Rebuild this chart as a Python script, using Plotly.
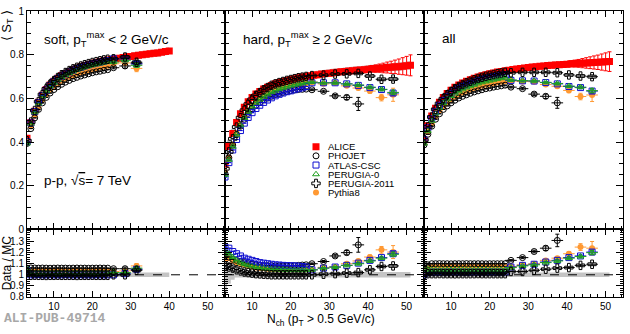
import plotly.graph_objects as go

W, H = 630, 334
FONT = "Liberation Sans, Arial, sans-serif"

# multiplicity bins
nch_soft = list(range(3, 41))
nch_alice = list(range(3, 52))
nch_mc = list(range(3, 25))
nch_mc_bins = [25.5, 28.5, 31.5, 34.5, 37.5, 40.5, 43.5, 46.5]

# ALICE data  <S_T>
alice_soft = [.418, .490, .542, .583, .615, .641, .662, .679, .693, .705, .715, .724, .732, .739,
              .745, .751, .756, .761, .765, .769, .773, .776, .779, .782, .785, .788, .791, .793,
              .796, .798, .800, .803, .805, .807, .809, .812, .815, .818]
alice_hard = [.300, .380, .440, .490, .530, .560, .585, .605, .620, .632, .643, .652, .660, .667,
              .673, .678, .683, .687, .691, .695, .698, .701, .704, .707, .709, .712, .714, .716,
              .718, .720, .722, .724, .726, .727, .729, .731, .732, .734, .736, .737, .739, .740,
              .742, .743, .745, .746, .748, .750, .752]
alice_all = [.410, .475, .520, .555, .583, .605, .623, .638, .651, .662, .671, .679, .686, .693,
             .699, .704, .709, .713, .717, .721, .724, .727, .730, .733, .735, .738, .740, .742,
             .744, .746, .748, .749, .751, .752, .754, .755, .756, .757, .759, .760, .761, .762,
             .763, .764, .765, .766, .767, .768, .769]
alice_hard_err = [0] * 31 + [.004, .005, .006, .008, .009, .011, .013, .015, .017, .019, .022,
                             .025, .028, .031, .035, .039, .043, .048]
alice_all_err = [0] * 31 + [.003, .004, .005, .007, .008, .010, .012, .014, .016, .018, .021,
                            .024, .027, .030, .033, .037, .041, .045]
# relative systematic uncertainty
sys_soft = [.02] * 38
sys_hard = [.15, .08, .045] + [.025] * 46
sys_all = [.03, .025] + [.02] * 47

# MC predictions, top panels (dense bins 3..24, then wide bins)
phojet_soft = [.394, .462, .511, .550, .580, .605, .625, .641, .654, .665, .675, .683, .691, .697,
               .703, .708, .713, .718, .722, .725, .729, .732, .741, .749, .759]
atlas_soft = [.402, .488, .540, .581, .613, .639, .660, .677, .691, .703, .713, .722, .730, .737,
              .743, .749, .754, .759, .763, .767, .771, .774, .782, .782, .759]
per0_soft = [.394, .485, .537, .577, .609, .635, .655, .672, .686, .698, .708, .717, .725, .732,
             .738, .744, .749, .753, .757, .761, .765, .768, .767, .775, .752]
per11_soft = [.406, .492, .545, .586, .618, .644, .665, .682, .696, .709, .719, .728, .736, .743,
              .749, .755, .760, .765, .769, .773, .777, .780, .782, .790, .766]
py8_soft = [.404, .473, .524, .563, .594, .619, .640, .656, .670, .681, .691, .700, .707, .714,
            .720, .726, .730, .735, .739, .743, .747, .750, .759, .763, .738]

phojet_hard = [.256, .328, .386, .434, .473, .505, .532, .553, .569, .581, .593, .602, .610, .618,
               .623, .628, .632, .636, .639, .641, .642, .643, .640, .633, .612, .605, .575]
atlas_hard = [.240, .306, .364, .412, .453, .487, .513, .535, .554, .569, .582, .593, .603, .612,
              .619, .625, .631, .635, .640, .645, .649, .655, .672, .672, .672, .667, .660, .650,
              .641, .625]
per0_hard = [.250, .319, .379, .434, .477, .511, .539, .563, .581, .595, .608, .619, .629, .636,
             .643, .649, .654, .659, .663, .667, .670, .673, .675, .672, .672, .667, .662, .652,
             .642, .628]
per11_hard = [.278, .355, .415, .469, .512, .546, .574, .596, .614, .627, .640, .650, .660, .667,
              .673, .678, .683, .687, .691, .695, .698, .701, .705, .707, .712, .713, .715, .703,
              .688, .689]
py8_hard = [.263, .330, .389, .441, .482, .514, .542, .564, .582, .595, .608, .618, .627, .635,
            .641, .646, .650, .654, .658, .662, .665, .668, .675, .667, .672, .658, .648, .634,
            .604, .617]

phojet_all = [.387, .436, .473, .505, .530, .550, .566, .580, .592, .602, .610, .617, .624, .630,
              .635, .640, .645, .648, .652, .655, .658, .661, .652, .645, .620, .610, .580]
atlas_all = [.410, .466, .507, .541, .569, .590, .608, .622, .635, .646, .655, .662, .669, .676,
             .682, .687, .692, .696, .700, .703, .706, .709, .683, .681, .680, .673, .667, .655,
             .650, .634]
per0_all = [.394, .452, .498, .531, .558, .579, .596, .611, .623, .633, .642, .650, .656, .663,
            .669, .674, .678, .682, .686, .690, .693, .696, .685, .682, .681, .674, .669, .657,
            .652, .636]
per11_all = [.410, .470, .515, .550, .577, .599, .617, .632, .645, .655, .664, .672, .679, .686,
             .692, .697, .702, .706, .710, .714, .717, .720, .718, .720, .720, .720, .718, .708,
             .703, .700]
py8_all = [.398, .448, .486, .519, .545, .565, .582, .596, .608, .619, .627, .635, .641, .648,
           .653, .658, .663, .666, .670, .674, .677, .679, .680, .678, .677, .664, .656, .637,
           .609, .616]

# Data / MC
phojet_soft_r = [1.06, 1.062, 1.061, 1.06, 1.061, 1.06, 1.059, 1.06, 1.061, 1.06, 1.06, 1.059,
                 1.06, 1.061, 1.06, 1.06, 1.059, 1.06, 1.06, 1.061, 1.06, 1.06, 1.055, 1.055, 1.05]
atlas_soft_r = [1.04, 1.0, 1.0, 1.002, 1.0, 1.0, 1.001, 1.0, 1.0, 1.0, 1.002, 1.0, 1.0, 1.0,
                1.001, 1.0, 1.0, 1.0, 1.001, 1.0, 1.0, 1.0, 1.0, 1.01, 1.05]
per0_soft_r = [1.06, 1.01, 1.01, 1.012, 1.01, 1.01, 1.011, 1.01, 1.01, 1.01, 1.01, 1.011, 1.01,
               1.01, 1.01, 1.01, 1.01, 1.011, 1.01, 1.01, 1.01, 1.01, 1.02, 1.02, 1.06]
per11_soft_r = [1.03, .995, .996, .995, .995, .994, .995, .995, .996, .995, .995, .995, .995,
                .994, .995, .995, .995, .996, .995, .995, .995, .995, 1.0, 1.0, 1.04]
py8_soft_r = [1.03, 1.035, 1.035, 1.036, 1.035, 1.035, 1.034, 1.035, 1.035, 1.036, 1.035, 1.035,
              1.035, 1.034, 1.035, 1.035, 1.035, 1.036, 1.035, 1.035, 1.035, 1.035, 1.03, 1.035,
              1.08]

phojet_hard_r = [1.17, 1.16, 1.14, 1.13, 1.12, 1.11, 1.10, 1.095, 1.09, 1.088, 1.085, 1.083,
                 1.082, 1.08, 1.08, 1.08, 1.08, 1.08, 1.082, 1.085, 1.088, 1.09, 1.10, 1.12,
                 1.17, 1.20, 1.27]
atlas_hard_r = [1.25, 1.24, 1.21, 1.19, 1.17, 1.15, 1.14, 1.13, 1.12, 1.11, 1.105, 1.10, 1.095,
                1.09, 1.088, 1.085, 1.083, 1.082, 1.08, 1.078, 1.075, 1.07, 1.045, 1.06, 1.07,
                1.085, 1.105, 1.13, 1.155, 1.19]
per0_hard_r = [1.20, 1.19, 1.16, 1.13, 1.11, 1.095, 1.085, 1.075, 1.068, 1.062, 1.058, 1.054,
               1.05, 1.048, 1.046, 1.045, 1.044, 1.043, 1.042, 1.042, 1.042, 1.042, 1.045, 1.06,
               1.07, 1.085, 1.10, 1.125, 1.15, 1.185]
per11_hard_r = [1.08, 1.07, 1.06, 1.045, 1.035, 1.025, 1.02, 1.015, 1.01, 1.008, 1.005, 1.003,
                1.0, 1.0, 1.0, 1.0, 1.0, 1.0, 1.0, 1.0, 1.0, 1.0, 1.0, 1.005, 1.01, 1.015, 1.02,
                1.045, 1.075, 1.08]
py8_hard_r = [1.14, 1.15, 1.13, 1.11, 1.10, 1.09, 1.08, 1.072, 1.066, 1.062, 1.058, 1.055, 1.052,
              1.05, 1.05, 1.05, 1.05, 1.05, 1.05, 1.05, 1.05, 1.05, 1.045, 1.067, 1.07, 1.10,
              1.125, 1.16, 1.225, 1.205]

phojet_all_r = [1.06, 1.09, 1.10, 1.10, 1.101, 1.10, 1.10, 1.099, 1.10, 1.10, 1.10, 1.101, 1.10,
                1.10, 1.10, 1.10, 1.099, 1.10, 1.10, 1.10, 1.10, 1.10, 1.13, 1.155, 1.21, 1.24,
                1.31]
atlas_all_r = [1.0, 1.02, 1.025, 1.025, 1.024, 1.025, 1.025, 1.026, 1.025, 1.025, 1.025, 1.024,
               1.025, 1.025, 1.025, 1.025, 1.026, 1.025, 1.025, 1.025, 1.025, 1.025, 1.07, 1.085,
               1.095, 1.115, 1.13, 1.155, 1.17, 1.205]
per0_all_r = [1.04, 1.05, 1.045, 1.045, 1.045, 1.044, 1.045, 1.045, 1.045, 1.046, 1.045, 1.045,
              1.045, 1.045, 1.044, 1.045, 1.045, 1.045, 1.045, 1.045, 1.045, 1.045, 1.065, 1.08,
              1.09, 1.11, 1.125, 1.15, 1.165, 1.20]
per11_all_r = [1.0, 1.01, 1.01, 1.01, 1.011, 1.01, 1.01, 1.01, 1.009, 1.01, 1.01, 1.01, 1.01,
               1.01, 1.011, 1.01, 1.01, 1.01, 1.01, 1.01, 1.01, 1.01, 1.03, 1.03, 1.04, 1.05,
               1.06, 1.065, 1.085, 1.095]
py8_all_r = [1.03, 1.06, 1.07, 1.07, 1.07, 1.071, 1.07, 1.07, 1.07, 1.069, 1.07, 1.07, 1.07,
             1.07, 1.07, 1.071, 1.07, 1.07, 1.07, 1.07, 1.07, 1.07, 1.075, 1.09, 1.10, 1.13,
             1.15, 1.19, 1.25, 1.24]

# stat. errors of the wide MC bins
phojet_soft_e = [.005, .01, .01]
atlas_soft_e = [.004, .006, .01]
per0_soft_e = [.004, .006, .01]
per11_soft_e = [.004, .006, .01]
py8_soft_e = [.005, .008, .015]
phojet_hard_e = [.004, .005, .006, .01, .03]
atlas_hard_e = [.002, .002, .003, .003, .004, .005, .006, .01]
per0_hard_e = [.002, .002, .003, .003, .004, .005, .006, .01]
per11_hard_e = [.002, .002, .003, .003, .004, .005, .006, .008]
py8_hard_e = [.003, .004, .005, .006, .008, .01, .015, .03]
phojet_all_e = [.004, .005, .006, .01, .025]
atlas_all_e = [.002, .002, .003, .003, .004, .005, .006, .01]
per0_all_e = [.002, .002, .003, .003, .004, .005, .006, .01]
per11_all_e = [.002, .002, .003, .003, .004, .005, .006, .008]
py8_all_e = [.003, .004, .005, .006, .008, .01, .015, .03]

legend_names = ["ALICE", "PHOJET", "ATLAS-CSC", "PERUGIA-0", "PERUGIA-2011", "Pythia8"]

# ---- styles ----
RED = "#ff0000"
BLUE = "#1010d0"
GREEN = "#20a020"
ORANGE = "#ff9933"
GREY = "#c4c4c4"
styles = {
    "ALICE": dict(symbol="square", size=7, color=RED, line=dict(width=0)),
    "PHOJET": dict(symbol="circle-open", size=6, color="black", line=dict(width=1)),
    "ATLAS-CSC": dict(symbol="square-open", size=6, color=BLUE, line=dict(width=1)),
    "PERUGIA-0": dict(symbol="triangle-up-open", size=6, color=GREEN, line=dict(width=1)),
    "PERUGIA-2011": dict(symbol="cross-open", size=7, color="black", line=dict(width=1)),
    "Pythia8": dict(symbol="circle", size=6, color=ORANGE, line=dict(width=0)),
}

fig = go.Figure()

panels = [
    dict(nch=nch_soft, alice=alice_soft, err=[0] * 38, sys=sys_soft,
         mc={"PHOJET": (phojet_soft, phojet_soft_r, phojet_soft_e),
             "ATLAS-CSC": (atlas_soft, atlas_soft_r, atlas_soft_e),
             "PERUGIA-0": (per0_soft, per0_soft_r, per0_soft_e),
             "PERUGIA-2011": (per11_soft, per11_soft_r, per11_soft_e),
             "Pythia8": (py8_soft, py8_soft_r, py8_soft_e)}),
    dict(nch=nch_alice, alice=alice_hard, err=alice_hard_err, sys=sys_hard,
         mc={"PHOJET": (phojet_hard, phojet_hard_r, phojet_hard_e),
             "ATLAS-CSC": (atlas_hard, atlas_hard_r, atlas_hard_e),
             "PERUGIA-0": (per0_hard, per0_hard_r, per0_hard_e),
             "PERUGIA-2011": (per11_hard, per11_hard_r, per11_hard_e),
             "Pythia8": (py8_hard, py8_hard_r, py8_hard_e)}),
    dict(nch=nch_alice, alice=alice_all, err=alice_all_err, sys=sys_all,
         mc={"PHOJET": (phojet_all, phojet_all_r, phojet_all_e),
             "ATLAS-CSC": (atlas_all, atlas_all_r, atlas_all_e),
             "PERUGIA-0": (per0_all, per0_all_r, per0_all_e),
             "PERUGIA-2011": (per11_all, per11_all_r, per11_all_e),
             "Pythia8": (py8_all, py8_all_r, py8_all_e)}),
]
mc_order = ["Pythia8", "PHOJET", "ATLAS-CSC", "PERUGIA-0", "PERUGIA-2011"]


def ax(i):
    return "" if i == 1 else str(i)


for k, p in enumerate(panels):
    top, bot = k + 1, k + 4
    xt, yt = "x" + ax(top), "y" + ax(top)
    xb, yb = "x" + ax(bot), "y" + ax(bot)
    n = p["nch"]
    # systematic band (top and ratio)
    lo = [a * (1 - s) for a, s in zip(p["alice"], p["sys"])]
    hi = [a * (1 + s) for a, s in zip(p["alice"], p["sys"])]
    for xa, ya, l, h in [(xt, yt, lo, hi), (xb, yb, [1 - s for s in p["sys"]], [1 + s for s in p["sys"]])]:
        fig.add_trace(go.Scatter(x=n, y=l, mode="lines", line=dict(width=0, shape="hvh"),
                                 xaxis=xa, yaxis=ya, hoverinfo="skip"))
        fig.add_trace(go.Scatter(x=n, y=h, mode="lines", line=dict(width=0, shape="hvh"),
                                 fill="tonexty", fillcolor=GREY, xaxis=xa, yaxis=ya,
                                 hoverinfo="skip"))
    fig.add_trace(go.Scatter(x=n, y=p["alice"], mode="markers", marker=styles["ALICE"],
                             error_y=dict(type="data", array=p["err"], color=RED, thickness=1, width=2),
                             xaxis=xt, yaxis=yt, name="ALICE"))
    for name in mc_order:
        vals, rats, berr = p["mc"][name]
        nb = len(berr)
        x = nch_mc + nch_mc_bins[:nb]
        ex = [0] * len(nch_mc) + [1.5] * nb
        ey = [0] * len(nch_mc) + berr
        ey_r = [r * e / v for r, e, v in zip(rats, ey, vals)]
        col = styles[name]["color"]
        for xa, ya, yy, ee in [(xt, yt, vals, ey), (xb, yb, rats, ey_r)]:
            fig.add_trace(go.Scatter(
                x=x, y=yy, mode="markers", marker=styles[name], name=name,
                error_x=dict(type="data", array=ex, color=col, thickness=1, width=0),
                error_y=dict(type="data", array=ee, color=col, thickness=1, width=2),
                xaxis=xa, yaxis=ya))

# ---- legend (drawn by hand, ROOT style) ----
leg_rows = [6.5, 16, 25.5, 35, 44.5, 54]
for name, yr in zip(legend_names, leg_rows):
    fig.add_trace(go.Scatter(x=[11], y=[yr], mode="markers", marker=styles[name],
                             xaxis="x7", yaxis="y7", hoverinfo="skip"))
    fig.add_annotation(x=21, y=yr, xref="x7", yref="y7", text=name, showarrow=False,
                       xanchor="left", yanchor="middle", font=dict(family=FONT, size=9.5, color="black"))

# ---- axes ----
x_px = [(27, 225), (225, 424), (424, 623)]
top_py = (6, 232)
bot_py = (232, 302)
xr = [3, 54.5]


def dom_y(a, b):
    return [1 - b / H, 1 - a / H]


base = dict(showline=True, linecolor="black", linewidth=1, mirror="ticks", ticks="inside",
            tickcolor="black", tickwidth=1, showgrid=False, zeroline=False,
            tickfont=dict(family=FONT, size=10, color="black"))
lay = {}
for k, (x0, x1) in enumerate(x_px):
    top, bot = k + 1, k + 4
    xminor = dict(ticks="inside", ticklen=3, dtick=2, tick0=0, tickcolor="black", showgrid=False)
    lay["xaxis" + ax(top)] = dict(base, domain=[x0 / W, x1 / W], range=xr, anchor="y" + ax(top),
                                  dtick=10, tick0=0, ticklen=6, minor=xminor, showticklabels=False)
    lay["xaxis" + ax(bot)] = dict(base, domain=[x0 / W, x1 / W], range=xr, anchor="y" + ax(bot),
                                  tickvals=[10, 20, 30, 40, 50], ticklen=6, minor=xminor)
    lay["yaxis" + ax(top)] = dict(base, domain=dom_y(*top_py), range=[0, 1.002], anchor="x" + ax(top),
                                  tickvals=[0, 0.2, 0.4, 0.6, 0.8, 1.0],
                                  ticktext=["0", "0.2", "0.4", "0.6", "0.8", "1"],
                                  ticklen=7, showticklabels=(k == 0),
                                  minor=dict(ticks="inside", ticklen=4, dtick=0.05, tick0=0,
                                             tickcolor="black", showgrid=False))
    lay["yaxis" + ax(bot)] = dict(base, domain=dom_y(*bot_py), range=[0.799, 1.41], anchor="x" + ax(bot),
                                  tickvals=[0.8, 0.9, 1.0, 1.1, 1.2, 1.3], ticktext=["0.8", "0.9", "1", "1.1", "1.2", "1.3"],
                                  ticklen=7, showticklabels=(k == 0),
                                  minor=dict(ticks="inside", ticklen=3, dtick=0.02, tick0=0,
                                             tickcolor="black", showgrid=False))
lay["xaxis7"] = dict(domain=[305 / W, 405 / W], range=[0, 100], visible=False, anchor="y7")
lay["yaxis7"] = dict(domain=dom_y(140, 200), range=[60, 0], visible=False, anchor="x7")
fig.update_layout(**lay)

for k in range(3):
    fig.add_shape(type="line", xref="x" + ax(k + 4) + " domain", yref="y" + ax(k + 4),
                  x0=0, x1=1, y0=1, y1=1, line=dict(color="black", width=1, dash="dash"))

# ---- texts ----
def txt(x, y, s, size=13, **kw):
    fig.add_annotation(x=x / W, y=1 - y / H, xref="paper", yref="paper", text=s, showarrow=False,
                       xanchor=kw.pop("xanchor", "left"), yanchor=kw.pop("yanchor", "middle"),
                       font=dict(family=kw.pop("family", FONT), size=size, color=kw.pop("color", "black")),
                       **kw)


txt(42, 35, "soft, p<sub>T</sub><sup>max</sup> &lt; 2 GeV/c", size=13.5)
txt(241, 35, "hard, p<sub>T</sub><sup>max</sup> ≥ 2 GeV/c", size=13.5)
txt(440, 35, "all", size=13.5)
txt(42, 181, "p-p, √<span style='text-decoration:overline'>s</span>= 7 TeV", size=13.5)
txt(7, 22, "⟨ S<sub>T</sub> ⟩", size=13, xanchor="center", textangle=-90)
txt(7, 267, "Data / MC", size=12, xanchor="center", textangle=-90)
txt(321, 326, "N<sub>ch</sub> (p<sub>T</sub> &gt; 0.5 GeV/c)", size=12, xanchor="center")
txt(2, 334, "<b>ALI-PUB-49714</b>", size=13, family="Liberation Mono, Courier New, monospace",
    color="#a8a8a8", yanchor="bottom")

fig.update_layout(width=W, height=H, margin=dict(l=0, r=0, t=0, b=0), showlegend=False,
                  paper_bgcolor="white", plot_bgcolor="white")
# drop the browser's default page margin so the figure sits at the window corner
fig.write_html("out.html", config={"displayModeBar": False},
               post_script="document.body.style.margin='0px';")
